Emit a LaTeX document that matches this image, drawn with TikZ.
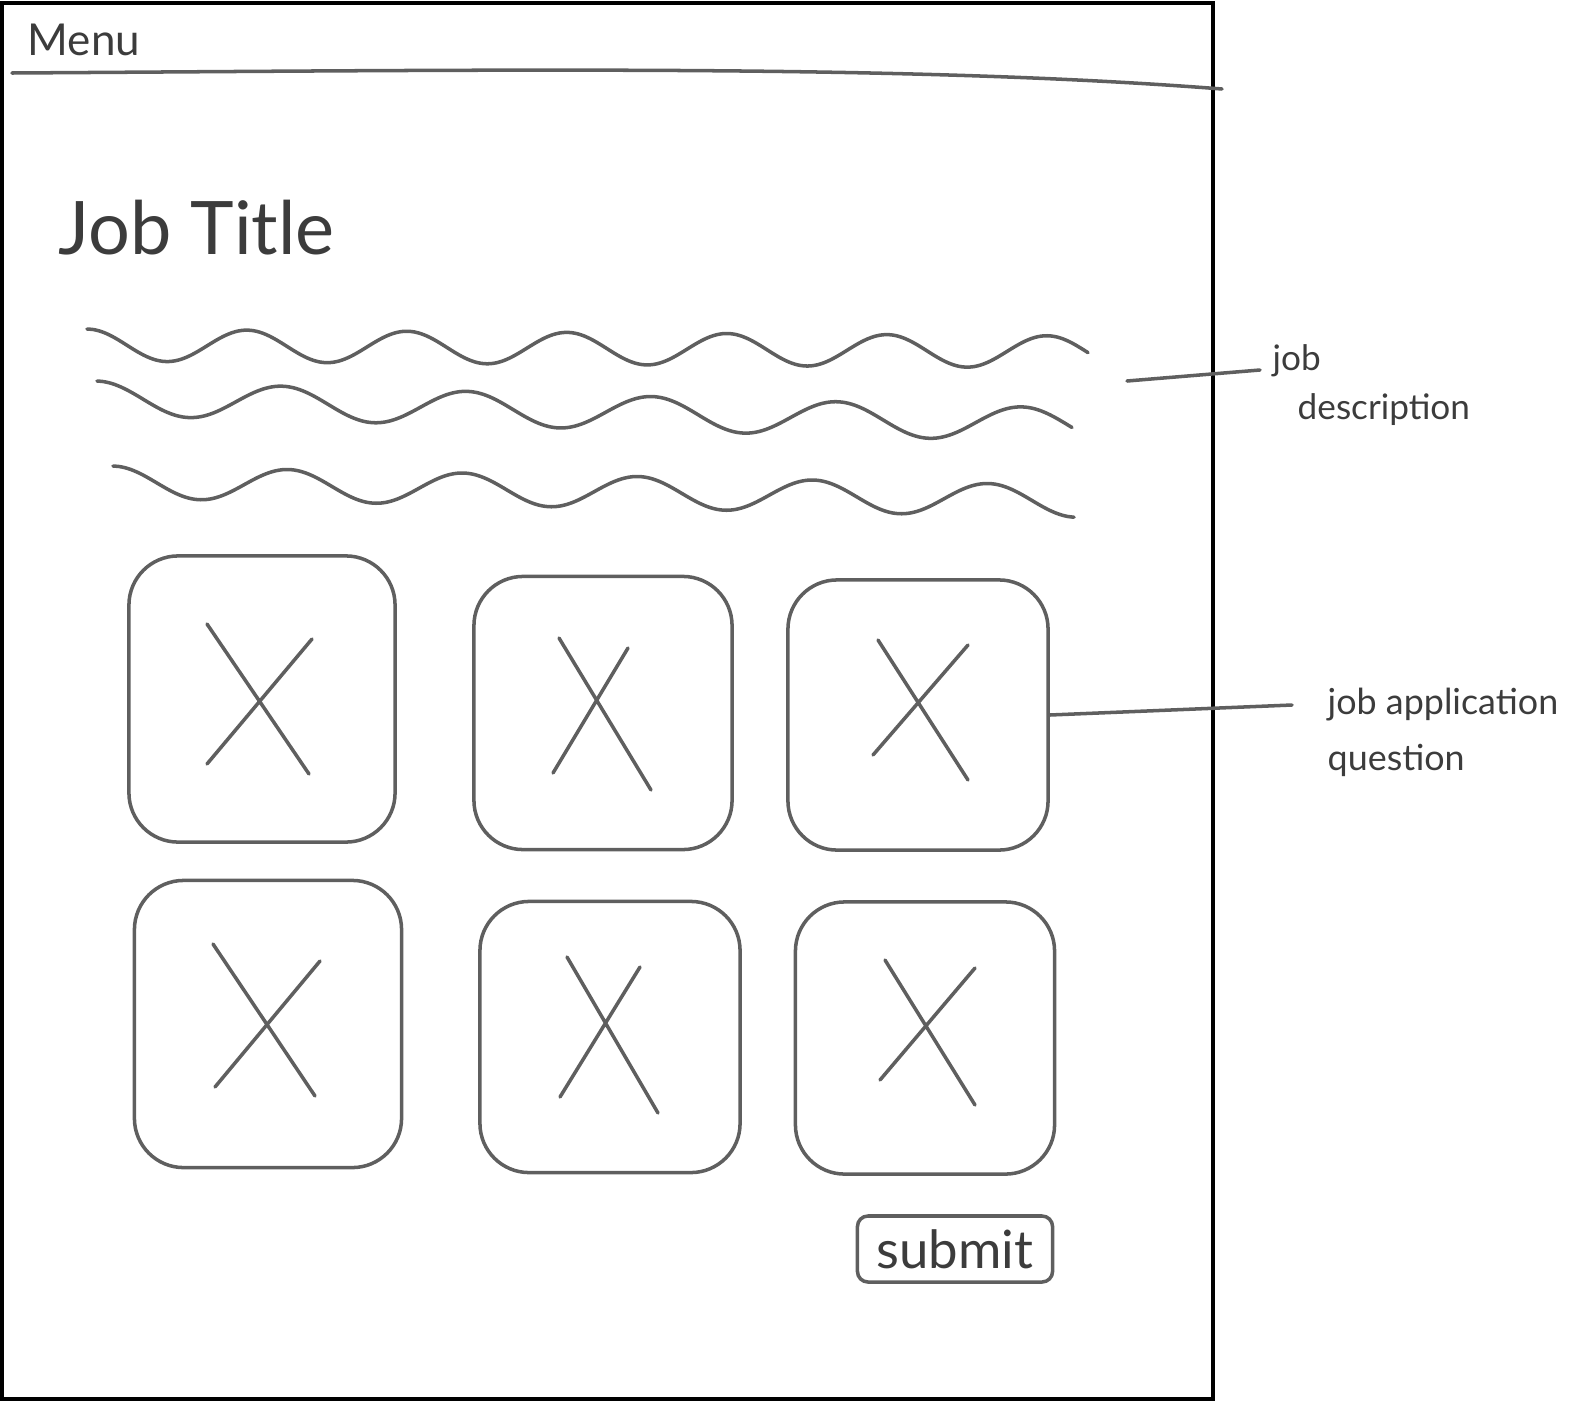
\documentclass[tikz,border=0pt]{standalone}
\usepackage{fontspec}
\setmainfont{Lato}
\usetikzlibrary{calc}
\definecolor{pencil}{HTML}{5F5F5F}
\definecolor{ink}{HTML}{3C3C3C}

\begin{document}
\begin{tikzpicture}[x=0.01cm,y=-0.01cm,
  sketch/.style={draw=pencil,line width=1pt,line cap=round,line join=round},
  imgbox/.style={sketch,rounded corners=14pt,inner sep=0pt},
  hand/.style={text=ink,inner sep=0pt}]
  \useasboundingbox (0,0) rectangle (1576,1403);
  % page frame and menu bar
  \draw[black,line width=1.3pt] (2,3) rectangle (1213,1399);
  \node[hand,font=\fontsize{12.5}{15}\selectfont,anchor=west] (menu) at (27,40) {Menu};
  \draw[sketch] (12,73) .. controls (500,70) and (900,64) .. (1222,89);
  % title and description lines
  \node[hand,font=\fontsize{21}{24}\selectfont,anchor=west] (title) at (58,228) {Job Title};
  \draw[sketch] plot[domain=87:1088,samples=160,smooth]
    (\x,{345+0.007*(\x-87)-16*cos(2.25*(\x-87))});
  \draw[sketch] plot[domain=97:1072,samples=160,smooth]
    (\x,{398+0.028*(\x-97)-17*cos(1.946*(\x-97))});
  \draw[sketch] plot[domain=113:1074,samples=160,smooth]
    (\x,{482+0.02*(\x-113)-16*cos(2.057*(\x-113))});
  % question boxes, first row
  \node[imgbox,minimum width=2.66cm,minimum height=2.86cm] (b1) at (262,699) {};
  \node[imgbox,minimum width=2.58cm,minimum height=2.73cm] (b2) at (603,713) {};
  \node[imgbox,minimum width=2.60cm,minimum height=2.70cm] (b3) at (918,715) {};
  % question boxes, second row
  \node[imgbox,minimum width=2.67cm,minimum height=2.87cm] (b4) at (268,1024) {};
  \node[imgbox,minimum width=2.60cm,minimum height=2.71cm] (b5) at (610,1037) {};
  \node[imgbox,minimum width=2.59cm,minimum height=2.72cm] (b6) at (925,1038) {};
  % crosses
  \draw[sketch] ($(b1)+(-55,-75)$) -- ($(b1)+(47,75)$) ($(b1)+(50,-60)$) -- ($(b1)+(-55,65)$);
  \draw[sketch] ($(b2)+(-44,-75)$) -- ($(b2)+(48,77)$) ($(b2)+(25,-65)$) -- ($(b2)+(-50,60)$);
  \draw[sketch] ($(b3)+(-40,-75)$) -- ($(b3)+(50,65)$) ($(b3)+(50,-70)$) -- ($(b3)+(-45,40)$);
  \draw[sketch] ($(b4)+(-55,-80)$) -- ($(b4)+(47,72)$) ($(b4)+(52,-63)$) -- ($(b4)+(-53,63)$);
  \draw[sketch] ($(b5)+(-43,-80)$) -- ($(b5)+(48,76)$) ($(b5)+(30,-70)$) -- ($(b5)+(-50,60)$);
  \draw[sketch] ($(b6)+(-40,-78)$) -- ($(b6)+(50,67)$) ($(b6)+(50,-70)$) -- ($(b6)+(-45,42)$);
  % submit button
  \node[sketch,rounded corners=3pt,minimum width=1.95cm,minimum height=0.66cm,
    text=ink,font=\fontsize{15}{18}\selectfont] (submit) at (955,1249) {submit};
  % notes on the right
  \node[hand,font=\fontsize{10}{14}\selectfont,align=left,anchor=west] (desc) at (1272,385)
    {job\\\hspace*{0.25cm}description};
  \node[hand,font=\fontsize{10.2}{16}\selectfont,align=left,anchor=west] (qa) at (1327,732)
    {job application\\question};
  \coordinate (dl) at (1127,381);
  \coordinate (dr) at (1260,370);
  \coordinate (ql) at (1292,705);
  \draw[sketch] (dl) -- (dr);
  \draw[sketch] (b3.east) -- (ql);
\end{tikzpicture}
\end{document}
